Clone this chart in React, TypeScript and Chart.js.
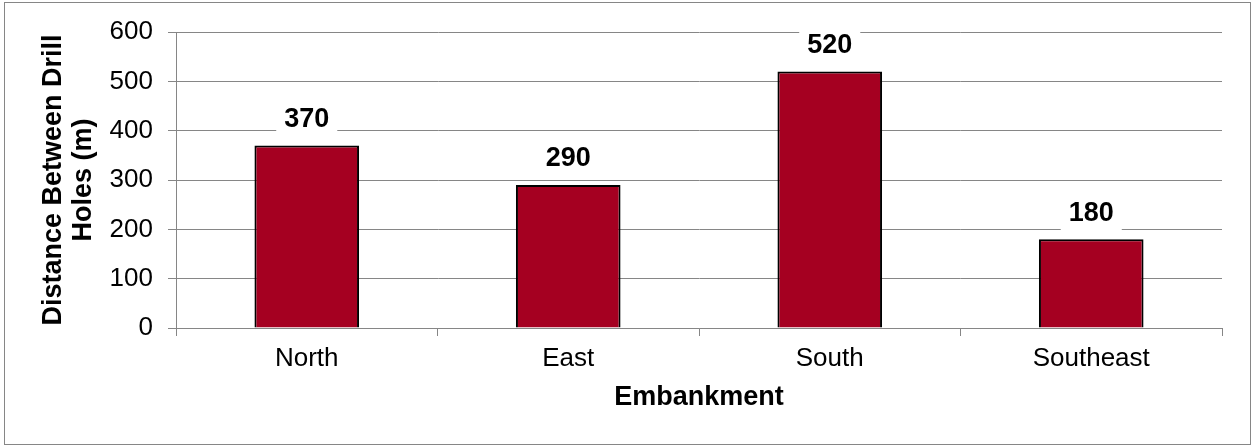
import React, { useEffect, useRef } from 'react';
import { Chart, registerables } from 'chart.js';

Chart.register(...registerables);

const categories = ['North', 'East', 'South', 'Southeast'];
const distances = [370, 290, 520, 180];
const yTicks = [0, 100, 200, 300, 400, 500, 600];
const xTitle = 'Embankment';
const yTitle = ['Distance Between Drill', 'Holes (m)'];

const FONT = '"Liberation Sans", Arial, sans-serif';
const GRID = '#868686';
const BAR = '#A50021';
const W = 1253;
const H = 446;

export default function App() {
  const ref = useRef<HTMLCanvasElement>(null);

  useEffect(() => {
    const canvas = ref.current!;
    const frame = {
      id: 'frame',
      beforeDraw(chart: any) {
        const ctx = chart.ctx;
        ctx.save();
        ctx.strokeStyle = GRID;
        ctx.lineWidth = 1;
        ctx.strokeRect(4.5, 2.5, 1246, 442);
        ctx.restore();
      },
    };
    const barLabels = {
      id: 'barLabels',
      afterDatasetsDraw(chart: any) {
        const ctx = chart.ctx;
        const meta = chart.getDatasetMeta(0);
        ctx.save();
        ctx.font = `bold 27px ${FONT}`;
        ctx.textAlign = 'center';
        ctx.textBaseline = 'middle';
        meta.data.forEach((el: any, i: number) => {
          const text = String(chart.data.datasets[0].data[i]);
          const w = ctx.measureText(text).width;
          const cy = el.y - 26;
          ctx.fillStyle = '#ffffff';
          ctx.fillRect(el.x - w / 2 - 8, cy - 16, w + 16, 34);
          ctx.fillStyle = '#000000';
          ctx.fillText(text, el.x, cy);
        });
        ctx.restore();
      },
    };

    const chart = new Chart(canvas, {
      type: 'bar',
      data: {
        labels: categories,
        datasets: [
          {
            data: distances,
            backgroundColor: BAR,
            borderColor: '#000000',
            borderWidth: 2,
            barPercentage: 0.4,
            categoryPercentage: 1.0,
          },
        ],
      },
      options: {
        responsive: false,
        animation: false,
        devicePixelRatio: 1,
        layout: { padding: { left: 0, right: 31, top: 32, bottom: 20 } },
        plugins: {
          legend: { display: false },
          tooltip: { enabled: false },
        },
        scales: {
          x: {
            grid: {
              drawOnChartArea: false,
              drawTicks: true,
              tickLength: 8,
              offset: true,
              color: GRID,
              lineWidth: 1,
            },
            border: { display: true, color: GRID, width: 1 },
            ticks: {
              color: '#000000',
              font: { family: FONT, size: 26 },
              padding: 7,
              maxRotation: 0,
              autoSkip: false,
            },
            title: {
              display: true,
              text: xTitle,
              color: '#000000',
              font: { family: FONT, size: 27, weight: 'bold' },
              padding: { top: 0, bottom: 12 },
            },
            afterFit(scale: any) {
              scale.height = H - 328 - 20;
            },
          },
          y: {
            min: 0,
            max: 600,
            afterBuildTicks(scale: any) {
              scale.ticks = yTicks.map((v) => ({ value: v }));
            },
            grid: {
              color: GRID,
              lineWidth: 1,
              drawTicks: true,
              tickLength: 8,
            },
            border: { display: true, color: GRID, width: 1 },
            ticks: {
              color: '#000000',
              font: { family: FONT, size: 26 },
              padding: 15,
            },
            title: {
              display: true,
              text: yTitle,
              color: '#000000',
              font: { family: FONT, size: 27, weight: 'bold', lineHeight: 1.11 },
              padding: { top: 39, bottom: 0 },
            },
            afterFit(scale: any) {
              scale.width = 176;
            },
          },
        },
      },
      plugins: [frame, barLabels],
    });
    return () => chart.destroy();
  }, []);

  return (
    <div style={{ position: 'absolute', left: 0, top: 0, width: W, height: H, background: '#fff' }}>
      <canvas ref={ref} width={W} height={H} style={{ display: 'block', width: W, height: H }} />
    </div>
  );
}
